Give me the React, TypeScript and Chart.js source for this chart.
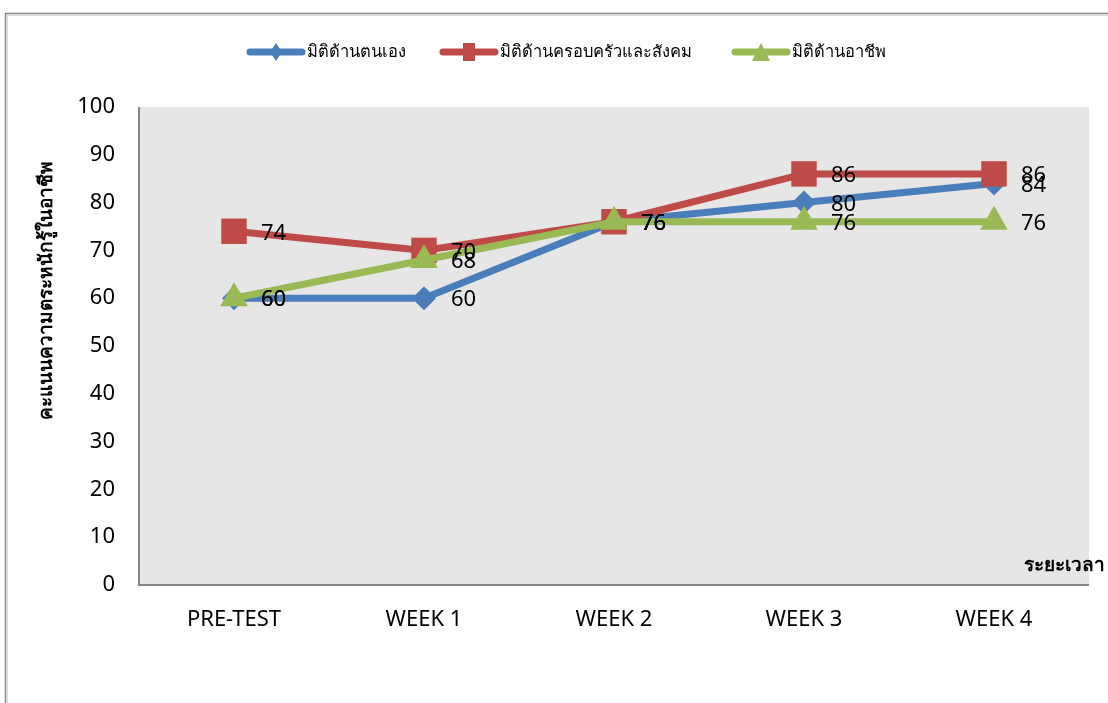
import React, { useEffect, useRef } from "react";
import { Chart, registerables } from "chart.js";

Chart.register(...registerables);

const categories = ["PRE-TEST", "WEEK 1", "WEEK 2", "WEEK 3", "WEEK 4"];
const seriesNames = ["มิติด้านตนเอง", "มิติด้านครอบครัวและสังคม", "มิติด้านอาชีพ"];
const selfValues = [60, 60, 76, 80, 84];
const familyValues = [74, 70, 76, 86, 86];
const careerValues = [60, 68, 76, 76, 76];
const yTicks = [0, 10, 20, 30, 40, 50, 60, 70, 80, 90, 100];
const yTitle = "คะแนนความตระหนักรู้ในอาชีพ";
const xTitle = "ระยะเวลา";

const colors = ["#4a7ebb", "#be4b48", "#98b954"];
const styles = ["rectRot", "rect", "triangle"];
const radii = [12, 18, 16];
const FONT = "'Noto Sans', 'DejaVu Sans', 'Liberation Sans', sans-serif";

const framePlugin = {
  id: "frame",
  beforeDraw(chart: any) {
    const { ctx, chartArea } = chart;
    ctx.save();
    ctx.fillStyle = "#ffffff";
    ctx.fillRect(0, 0, chart.width, chart.height);
    ctx.strokeStyle = "#858585";
    ctx.lineWidth = 1.5;
    ctx.strokeRect(5.5, 13.5, 1300, 1000);
    ctx.strokeStyle = "#d8d8d8";
    ctx.lineWidth = 1;
    ctx.strokeRect(7.5, 15.5, 1300, 1000);
    ctx.fillStyle = "#e6e6e6";
    ctx.fillRect(chartArea.left, chartArea.top, chartArea.right - chartArea.left, chartArea.bottom - chartArea.top);
    ctx.restore();
  },
};

const extrasPlugin = {
  id: "extras",
  afterDraw(chart: any) {
    const { ctx, chartArea } = chart;
    ctx.save();
    // axis lines
    ctx.strokeStyle = "#868686";
    ctx.lineWidth = 2;
    ctx.beginPath();
    ctx.moveTo(chartArea.left, chartArea.top);
    ctx.lineTo(chartArea.left, chartArea.bottom);
    ctx.lineTo(chartArea.right, chartArea.bottom);
    ctx.stroke();

    // data labels
    ctx.fillStyle = "#000000";
    ctx.font = `22px ${FONT}`;
    ctx.textAlign = "left";
    ctx.textBaseline = "middle";
    chart.data.datasets.forEach((ds: any, i: number) => {
      const meta = chart.getDatasetMeta(i);
      meta.data.forEach((pt: any, j: number) => {
        ctx.fillText(String(ds.data[j]), pt.x + 27, pt.y + 2);
      });
    });

    // axis titles
    ctx.font = `bold 19px ${FONT}`;
    ctx.save();
    ctx.translate(47, 290);
    ctx.rotate(-Math.PI / 2);
    ctx.textAlign = "center";
    ctx.fillText(yTitle, 0, 0);
    ctx.restore();
    ctx.textAlign = "right";
    ctx.fillText(xTitle, 1105, 566);

    // legend
    const items = [
      { x: 247, name: seriesNames[0] },
      { x: 440, name: seriesNames[1] },
      { x: 732, name: seriesNames[2] },
    ];
    const ly = 52;
    items.forEach((it, i) => {
      ctx.strokeStyle = colors[i];
      ctx.lineWidth = 7;
      ctx.lineCap = "round";
      ctx.beginPath();
      ctx.moveTo(it.x + 3, ly);
      ctx.lineTo(it.x + 55, ly);
      ctx.stroke();
      ctx.fillStyle = colors[i];
      const cx = it.x + 29;
      ctx.beginPath();
      if (i === 0) {
        ctx.moveTo(cx, ly - 9);
        ctx.lineTo(cx + 6, ly);
        ctx.lineTo(cx, ly + 9);
        ctx.lineTo(cx - 6, ly);
      } else if (i === 1) {
        ctx.rect(cx - 6, ly - 9, 12, 18);
      } else {
        ctx.moveTo(cx, ly - 9);
        ctx.lineTo(cx + 9, ly + 9);
        ctx.lineTo(cx - 9, ly + 9);
      }
      ctx.closePath();
      ctx.fill();
      ctx.fillStyle = "#000000";
      ctx.font = `16.5px ${FONT}`;
      ctx.textAlign = "left";
      ctx.textBaseline = "middle";
      ctx.fillText(it.name, it.x + 60, ly);
    });
    ctx.restore();
  },
};

export default function App() {
  const ref = useRef<HTMLCanvasElement>(null);
  useEffect(() => {
    if (!ref.current) return;
    const values = [selfValues, familyValues, careerValues];
    const chart = new Chart(ref.current, {
      type: "line",
      data: {
        labels: categories,
        datasets: values.map((v, i) => ({
          label: seriesNames[i],
          data: v,
          borderColor: colors[i],
          backgroundColor: colors[i],
          borderWidth: 7,
          pointStyle: styles[i] as any,
          pointRadius: radii[i],
          pointBorderWidth: 0,
          pointBackgroundColor: colors[i],
          tension: 0,
          order: 2 - i,
        })),
      },
      options: {
        animation: false,
        responsive: false,
        maintainAspectRatio: false,
        layout: { padding: { top: 107, right: 19, left: 0, bottom: 0 } },
        plugins: { legend: { display: false }, tooltip: { enabled: false } },
        scales: {
          x: {
            offset: true,
            grid: { display: false, drawTicks: false },
            border: { display: false },
            ticks: { color: "#000", font: { size: 22, family: FONT }, padding: 22 },
            afterFit: (s: any) => { s.height = 118; },
          },
          y: {
            min: 0,
            max: 100,
            grid: { display: false, drawTicks: false },
            border: { display: false },
            afterBuildTicks: (s: any) => { s.ticks = yTicks.map((v) => ({ value: v })); },
            ticks: { color: "#000", font: { size: 22, family: FONT }, padding: 24 },
            afterFit: (s: any) => { s.width = 139; },
          },
        },
      },
      plugins: [framePlugin, extrasPlugin],
    });
    return () => chart.destroy();
  }, []);
  return (
    <div style={{ position: "fixed", left: 0, top: 0, width: 1108, height: 703 }}>
      <canvas ref={ref} width={1108} height={703} style={{ width: 1108, height: 703 }} />
    </div>
  );
}
